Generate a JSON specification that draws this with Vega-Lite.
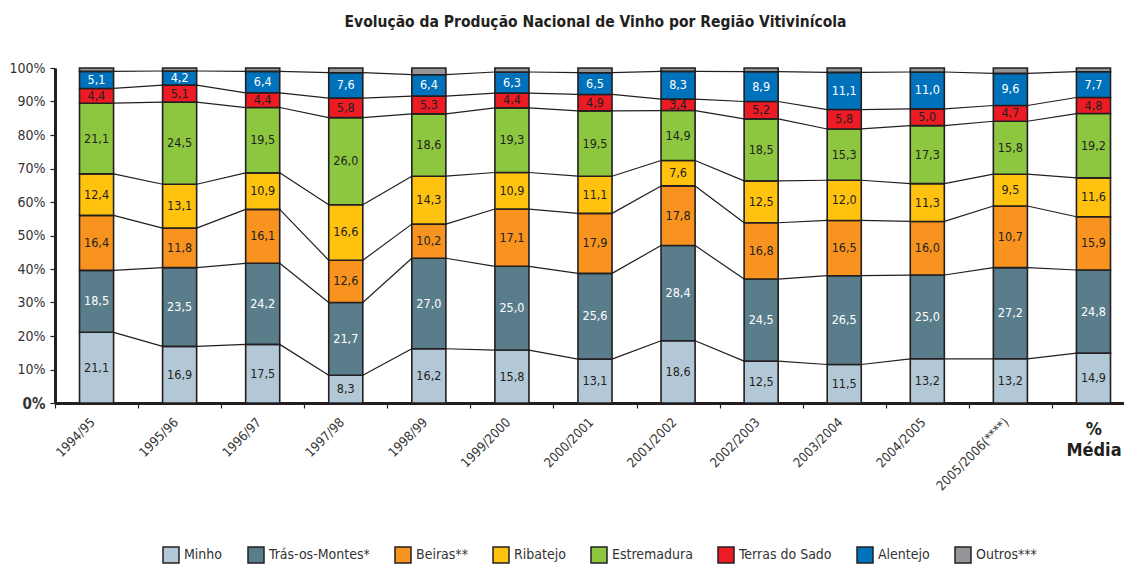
{
  "$schema": "https://vega.github.io/schema/vega-lite/v6.json",
  "width": 1069,
  "height": 335,
  "autosize": {"type": "none"},
  "padding": {"left": 55, "top": 68, "right": 0, "bottom": 161},
  "background": "white",
  "title": {
    "text": "Evolução da Produção Nacional de Vinho por Região Vitivinícola",
    "font": "DejaVu Sans Condensed, sans-serif",
    "fontSize": 15.5,
    "fontWeight": "bold",
    "color": "#231f20",
    "anchor": "middle",
    "dx": 6,
    "offset": 31
  },
  "data": {
    "values": [
      {"p": "1994/95", "r": "Minho", "v": 21.1, "l": "21,1"},
      {"p": "1994/95", "r": "Trás-os-Montes*", "v": 18.5, "l": "18,5"},
      {"p": "1994/95", "r": "Beiras**", "v": 16.4, "l": "16,4"},
      {"p": "1994/95", "r": "Ribatejo", "v": 12.4, "l": "12,4"},
      {"p": "1994/95", "r": "Estremadura", "v": 21.1, "l": "21,1"},
      {"p": "1994/95", "r": "Terras do Sado", "v": 4.4, "l": "4,4"},
      {"p": "1994/95", "r": "Alentejo", "v": 5.1, "l": "5,1"},
      {"p": "1994/95", "r": "Outros***", "v": 1.0, "l": ""},
      {"p": "1995/96", "r": "Minho", "v": 16.9, "l": "16,9"},
      {"p": "1995/96", "r": "Trás-os-Montes*", "v": 23.5, "l": "23,5"},
      {"p": "1995/96", "r": "Beiras**", "v": 11.8, "l": "11,8"},
      {"p": "1995/96", "r": "Ribatejo", "v": 13.1, "l": "13,1"},
      {"p": "1995/96", "r": "Estremadura", "v": 24.5, "l": "24,5"},
      {"p": "1995/96", "r": "Terras do Sado", "v": 5.1, "l": "5,1"},
      {"p": "1995/96", "r": "Alentejo", "v": 4.2, "l": "4,2"},
      {"p": "1995/96", "r": "Outros***", "v": 0.9, "l": ""},
      {"p": "1996/97", "r": "Minho", "v": 17.5, "l": "17,5"},
      {"p": "1996/97", "r": "Trás-os-Montes*", "v": 24.2, "l": "24,2"},
      {"p": "1996/97", "r": "Beiras**", "v": 16.1, "l": "16,1"},
      {"p": "1996/97", "r": "Ribatejo", "v": 10.9, "l": "10,9"},
      {"p": "1996/97", "r": "Estremadura", "v": 19.5, "l": "19,5"},
      {"p": "1996/97", "r": "Terras do Sado", "v": 4.4, "l": "4,4"},
      {"p": "1996/97", "r": "Alentejo", "v": 6.4, "l": "6,4"},
      {"p": "1996/97", "r": "Outros***", "v": 1.0, "l": ""},
      {"p": "1997/98", "r": "Minho", "v": 8.3, "l": "8,3"},
      {"p": "1997/98", "r": "Trás-os-Montes*", "v": 21.7, "l": "21,7"},
      {"p": "1997/98", "r": "Beiras**", "v": 12.6, "l": "12,6"},
      {"p": "1997/98", "r": "Ribatejo", "v": 16.6, "l": "16,6"},
      {"p": "1997/98", "r": "Estremadura", "v": 26.0, "l": "26,0"},
      {"p": "1997/98", "r": "Terras do Sado", "v": 5.8, "l": "5,8"},
      {"p": "1997/98", "r": "Alentejo", "v": 7.6, "l": "7,6"},
      {"p": "1997/98", "r": "Outros***", "v": 1.4, "l": ""},
      {"p": "1998/99", "r": "Minho", "v": 16.2, "l": "16,2"},
      {"p": "1998/99", "r": "Trás-os-Montes*", "v": 27.0, "l": "27,0"},
      {"p": "1998/99", "r": "Beiras**", "v": 10.2, "l": "10,2"},
      {"p": "1998/99", "r": "Ribatejo", "v": 14.3, "l": "14,3"},
      {"p": "1998/99", "r": "Estremadura", "v": 18.6, "l": "18,6"},
      {"p": "1998/99", "r": "Terras do Sado", "v": 5.3, "l": "5,3"},
      {"p": "1998/99", "r": "Alentejo", "v": 6.4, "l": "6,4"},
      {"p": "1998/99", "r": "Outros***", "v": 2.0, "l": ""},
      {"p": "1999/2000", "r": "Minho", "v": 15.8, "l": "15,8"},
      {"p": "1999/2000", "r": "Trás-os-Montes*", "v": 25.0, "l": "25,0"},
      {"p": "1999/2000", "r": "Beiras**", "v": 17.1, "l": "17,1"},
      {"p": "1999/2000", "r": "Ribatejo", "v": 10.9, "l": "10,9"},
      {"p": "1999/2000", "r": "Estremadura", "v": 19.3, "l": "19,3"},
      {"p": "1999/2000", "r": "Terras do Sado", "v": 4.4, "l": "4,4"},
      {"p": "1999/2000", "r": "Alentejo", "v": 6.3, "l": "6,3"},
      {"p": "1999/2000", "r": "Outros***", "v": 1.2, "l": ""},
      {"p": "2000/2001", "r": "Minho", "v": 13.1, "l": "13,1"},
      {"p": "2000/2001", "r": "Trás-os-Montes*", "v": 25.6, "l": "25,6"},
      {"p": "2000/2001", "r": "Beiras**", "v": 17.9, "l": "17,9"},
      {"p": "2000/2001", "r": "Ribatejo", "v": 11.1, "l": "11,1"},
      {"p": "2000/2001", "r": "Estremadura", "v": 19.5, "l": "19,5"},
      {"p": "2000/2001", "r": "Terras do Sado", "v": 4.9, "l": "4,9"},
      {"p": "2000/2001", "r": "Alentejo", "v": 6.5, "l": "6,5"},
      {"p": "2000/2001", "r": "Outros***", "v": 1.4, "l": ""},
      {"p": "2001/2002", "r": "Minho", "v": 18.6, "l": "18,6"},
      {"p": "2001/2002", "r": "Trás-os-Montes*", "v": 28.4, "l": "28,4"},
      {"p": "2001/2002", "r": "Beiras**", "v": 17.8, "l": "17,8"},
      {"p": "2001/2002", "r": "Ribatejo", "v": 7.6, "l": "7,6"},
      {"p": "2001/2002", "r": "Estremadura", "v": 14.9, "l": "14,9"},
      {"p": "2001/2002", "r": "Terras do Sado", "v": 3.4, "l": "3,4"},
      {"p": "2001/2002", "r": "Alentejo", "v": 8.3, "l": "8,3"},
      {"p": "2001/2002", "r": "Outros***", "v": 1.0, "l": ""},
      {"p": "2002/2003", "r": "Minho", "v": 12.5, "l": "12,5"},
      {"p": "2002/2003", "r": "Trás-os-Montes*", "v": 24.5, "l": "24,5"},
      {"p": "2002/2003", "r": "Beiras**", "v": 16.8, "l": "16,8"},
      {"p": "2002/2003", "r": "Ribatejo", "v": 12.5, "l": "12,5"},
      {"p": "2002/2003", "r": "Estremadura", "v": 18.5, "l": "18,5"},
      {"p": "2002/2003", "r": "Terras do Sado", "v": 5.2, "l": "5,2"},
      {"p": "2002/2003", "r": "Alentejo", "v": 8.9, "l": "8,9"},
      {"p": "2002/2003", "r": "Outros***", "v": 1.1, "l": ""},
      {"p": "2003/2004", "r": "Minho", "v": 11.5, "l": "11,5"},
      {"p": "2003/2004", "r": "Trás-os-Montes*", "v": 26.5, "l": "26,5"},
      {"p": "2003/2004", "r": "Beiras**", "v": 16.5, "l": "16,5"},
      {"p": "2003/2004", "r": "Ribatejo", "v": 12.0, "l": "12,0"},
      {"p": "2003/2004", "r": "Estremadura", "v": 15.3, "l": "15,3"},
      {"p": "2003/2004", "r": "Terras do Sado", "v": 5.8, "l": "5,8"},
      {"p": "2003/2004", "r": "Alentejo", "v": 11.1, "l": "11,1"},
      {"p": "2003/2004", "r": "Outros***", "v": 1.3, "l": ""},
      {"p": "2004/2005", "r": "Minho", "v": 13.2, "l": "13,2"},
      {"p": "2004/2005", "r": "Trás-os-Montes*", "v": 25.0, "l": "25,0"},
      {"p": "2004/2005", "r": "Beiras**", "v": 16.0, "l": "16,0"},
      {"p": "2004/2005", "r": "Ribatejo", "v": 11.3, "l": "11,3"},
      {"p": "2004/2005", "r": "Estremadura", "v": 17.3, "l": "17,3"},
      {"p": "2004/2005", "r": "Terras do Sado", "v": 5.0, "l": "5,0"},
      {"p": "2004/2005", "r": "Alentejo", "v": 11.0, "l": "11,0"},
      {"p": "2004/2005", "r": "Outros***", "v": 1.2, "l": ""},
      {"p": "2005/2006(****)", "r": "Minho", "v": 13.2, "l": "13,2"},
      {"p": "2005/2006(****)", "r": "Trás-os-Montes*", "v": 27.2, "l": "27,2"},
      {"p": "2005/2006(****)", "r": "Beiras**", "v": 18.4, "l": "10,7"},
      {"p": "2005/2006(****)", "r": "Ribatejo", "v": 9.5, "l": "9,5"},
      {"p": "2005/2006(****)", "r": "Estremadura", "v": 15.8, "l": "15,8"},
      {"p": "2005/2006(****)", "r": "Terras do Sado", "v": 4.7, "l": "4,7"},
      {"p": "2005/2006(****)", "r": "Alentejo", "v": 9.6, "l": "9,6"},
      {"p": "2005/2006(****)", "r": "Outros***", "v": 1.6, "l": ""},
      {"p": "% Média", "r": "Minho", "v": 14.9, "l": "14,9"},
      {"p": "% Média", "r": "Trás-os-Montes*", "v": 24.8, "l": "24,8"},
      {"p": "% Média", "r": "Beiras**", "v": 15.9, "l": "15,9"},
      {"p": "% Média", "r": "Ribatejo", "v": 11.6, "l": "11,6"},
      {"p": "% Média", "r": "Estremadura", "v": 19.2, "l": "19,2"},
      {"p": "% Média", "r": "Terras do Sado", "v": 4.8, "l": "4,8"},
      {"p": "% Média", "r": "Alentejo", "v": 7.7, "l": "7,7"},
      {"p": "% Média", "r": "Outros***", "v": 1.1, "l": ""}
    ]
  },
  "transform": [
    {"window": [{"op": "row_number", "as": "rid"}]},
    {"stack": "v", "groupby": ["p"], "sort": [{"field": "rid"}], "as": ["y0", "y1"]},
    {"window": [{"op": "lead", "field": "y1", "as": "ny"}, {"op": "lead", "field": "p", "as": "np"}], "groupby": ["r"], "sort": [{"field": "rid"}]}
  ],
  "layer": [
    {
      "transform": [{"filter": "datum.np != null && datum.r != 'Outros***'"}],
      "mark": {"type": "rule", "color": "#231f20", "strokeWidth": 1.2},
      "encoding": {
        "x": {"field": "p", "type": "nominal", "bandPosition": 0.705},
        "x2": {"field": "np", "bandPosition": 0.295},
        "y": {
          "field": "y1",
          "type": "quantitative",
          "scale": {"domain": [0, 100], "nice": false},
          "axis": {"values": [0, 10, 20, 30, 40, 50, 60, 70, 80, 90, 100], "labelOverlap": false}
        },
        "y2": {"field": "ny"}
      }
    },
    {
      "mark": {"type": "bar", "width": {"band": 0.41}, "stroke": "#231f20", "strokeWidth": 1.6},
      "encoding": {
        "x": {
          "field": "p",
          "type": "nominal",
          "scale": {
            "domain": ["1994/95", "1995/96", "1996/97", "1997/98", "1998/99", "1999/2000", "2000/2001", "2001/2002", "2002/2003", "2003/2004", "2004/2005", "2005/2006(****)", "% Média"],
            "range": [0, 1080],
            "paddingInner": 0,
            "paddingOuter": 0
          },
          "axis": {
            "title": null,
            "domainColor": "#231f20",
            "domainWidth": 3,
            "tickBand": "extent",
            "tickColor": "#231f20",
            "tickSize": 5,
            "tickWidth": 1.2,
            "labelAngle": -45,
            "labelExpr": "datum.value === '% Média' ? ['%', 'Média'] : datum.label",
            "labelFont": "DejaVu Sans Condensed, sans-serif",
            "labelFontSize": {"condition": {"test": "datum.value === '% Média'", "value": 18}, "value": 13},
            "labelFontWeight": {"condition": {"test": "datum.value === '% Média'", "value": "bold"}, "value": "normal"},
            "labelAlign": {"condition": {"test": "datum.value === '% Média'", "value": "center"}, "value": "right"},
            "labelBaseline": {"condition": {"test": "datum.value === '% Média'", "value": "top"}, "value": "middle"},
            "labelColor": {"condition": {"test": "datum.value === '% Média'", "value": "#231f20"}, "value": "#333333"},
            "labelOffset": {"condition": {"test": "datum.value === '% Média'", "value": 0}, "value": -4},
            "labelLineHeight": 21,
            "labelPadding": 12,
            "labelOverlap": false,
            "labelBound": false,
            "labelLimit": 300,
            "encoding": {
              "labels": {
                "angle": {"condition": {"test": "datum.value === '% Média'", "value": 0}, "value": -45}
              }
            }
          }
        },
        "y": {
          "field": "y0",
          "type": "quantitative",
          "axis": {"values": [0, 10, 20, 30, 40, 50, 60, 70, 80, 90, 100], "labelOverlap": false}
        },
        "y2": {"field": "y1"},
        "color": {
          "field": "r",
          "type": "nominal",
          "scale": {
            "domain": ["Minho", "Trás-os-Montes*", "Beiras**", "Ribatejo", "Estremadura", "Terras do Sado", "Alentejo", "Outros***"],
            "range": ["#b3c8d6", "#5a7d8b", "#f7931e", "#ffc20e", "#8dc63f", "#ed1c24", "#0072bc", "#939598"]
          },
          "legend": {
            "title": null,
            "orient": "none",
            "legendX": 107,
            "legendY": 478,
            "direction": "horizontal",
            "columns": 8,
            "padding": 0,
            "symbolType": "square",
            "symbolSize": 256,
            "symbolStrokeColor": "#231f20",
            "symbolStrokeWidth": 1.5,
            "symbolOpacity": 1,
            "labelFont": "DejaVu Sans Condensed, sans-serif",
            "labelFontSize": 14,
            "labelColor": "#333333",
            "labelOffset": 4,
            "columnPadding": 22
          }
        }
      }
    },
    {
      "transform": [{"filter": "datum.r != 'Outros***'"}],
      "mark": {"type": "text", "font": "DejaVu Sans Condensed, sans-serif", "fontSize": 12.5},
      "encoding": {
        "x": {"field": "p", "type": "nominal"},
        "y": {
          "field": "v",
          "type": "quantitative",
          "stack": "zero",
          "bandPosition": 0.5,
          "axis": {"values": [0, 10, 20, 30, 40, 50, 60, 70, 80, 90, 100], "labelOverlap": false}
        },
        "detail": {"field": "r"},
        "order": {"field": "rid", "type": "quantitative"},
        "text": {"field": "l"},
        "color": {
          "condition": {"test": "datum.r === 'Trás-os-Montes*' || datum.r === 'Alentejo'", "value": "#ffffff"},
          "value": "#231f20"
        }
      }
    }
  ],
  "config": {
    "view": {"stroke": null},
    "axisY": {
      "title": null,
      "labelOverlap": false,
      "grid": false,
      "domainColor": "#231f20",
      "domainWidth": 3,
      "tickColor": "#231f20",
      "tickSize": 5,
      "tickWidth": 1.2,
      "labelExpr": "datum.value + '%'",
      "labelFont": "DejaVu Sans Condensed, sans-serif",
      "labelFontSize": {"condition": {"test": "datum.value === 0", "value": 15}, "value": 14},
      "labelFontWeight": {"condition": {"test": "datum.value === 0", "value": "bold"}, "value": "normal"},
      "labelColor": "#333333",
      "labelPadding": 5
    }
  }
}
